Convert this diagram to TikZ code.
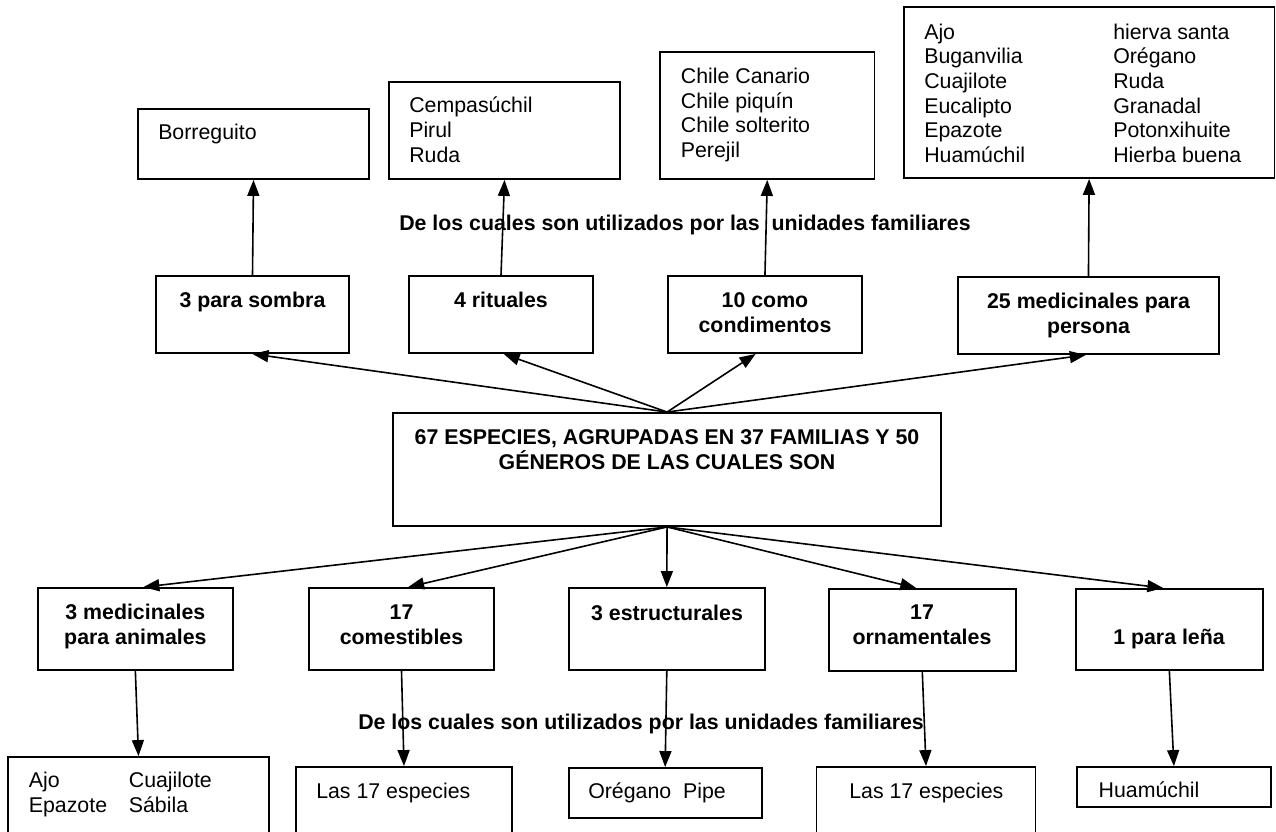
\documentclass[tikz,border=0pt]{standalone}
\usepackage{fontspec}
\setmainfont{Liberation Sans}
\usetikzlibrary{arrows.meta, positioning, fit}

\begin{document}
\begin{tikzpicture}[x=0.75pt, y=-0.75pt,
    box/.style={draw, line width=1.4pt, inner sep=0pt},
    plain/.style={anchor=base west, inner sep=0pt, align=left, font=\fontsize{16}{18.4}\selectfont},
    head/.style={anchor=base, inner sep=0pt, align=center, font=\fontsize{16}{18.7}\selectfont\bfseries},
    note/.style={anchor=base west, inner sep=0pt, font=\fontsize{16}{18.4}\selectfont\bfseries},
    link/.style={line width=1.2pt, -{Triangle[length=12pt, width=9pt]}}]
  \useasboundingbox (0,0) rectangle (1276,831);
  \clip (0,0) rectangle (1276,831);

  % upper lists
  \node[box, fit={(138,109) (369,179)}] (borreg) {};
  \node[box, fit={(389,82) (620,179)}] (cempa) {};
  \node[box, fit={(660,52) (874.5,179)}] (chile) {};
  \node[box, fit={(903.7,7) (1274.5,178)}] (ajo) {};
  \node[plain] (borreg-txt) at (158,139.6) {Borreguito};
  \node[plain] (cempa-txt) at (409,162) {Cempasúchil\\Pirul\\Ruda};
  \node[plain] (chile-txt) at (680.6,157.1) {Chile Canario\\Chile piquín\\Chile solterito\\Perejil};
  \node[plain] (ajo-a) at (924,162.1) {Ajo\\Buganvilia\\Cuajilote\\Eucalipto\\Epazote\\Huamúchil};
  \node[plain] (ajo-b) at (1113,162.1) {hierva santa\\Orégano\\Ruda\\Granadal\\Potonxihuite\\Hierba buena};

  % upper uses
  \node[box, fit={(156,276) (349,353)}] (sombra) {};
  \node[box, fit={(409,276) (593,353)}] (ritual) {};
  \node[box, fit={(667.6,276) (862.3,353)}] (condim) {};
  \node[box, fit={(957.6,277) (1219.3,354)}] (persona) {};
  \node[head] (sombra-txt) at (252.5,307.6) {3 para sombra};
  \node[head] (ritual-txt) at (501,307.6) {4 rituales};
  \node[head] (condim-txt) at (765,332) {10 como\\condimentos};
  \node[head] (persona-txt) at (1088.5,333) {25 medicinales para\\persona};
  \node[note] (nota-up) at (399,230.6) {De los cuales son utilizados por las\ \ unidades familiares};

  % total
  \node[box, fit={(392.7,413) (941.4,526)}] (total) {};
  \node[head] (total-txt) at (667,469.6) {67 ESPECIES, AGRUPADAS EN 37 FAMILIAS Y 50\\GÉNEROS DE LAS CUALES SON};

  % lower uses
  \node[box, fit={(38,588) (232.7,670)}] (animal) {};
  \node[box, fit={(309,588) (494,670)}] (comest) {};
  \node[box, fit={(568.6,588) (765,670)}] (estruc) {};
  \node[box, fit={(828.6,589) (1016,671)}] (ornam) {};
  \node[box, fit={(1076,589) (1262.7,670)}] (lena) {};
  \node[head] (animal-txt) at (135.4,644.8) {3 medicinales\\para animales};
  \node[head] (comest-txt) at (401.5,644.8) {17\\comestibles};
  \node[head] (estruc-txt) at (667,620.6) {3 estructurales};
  \node[head] (ornam-txt) at (922,644.6) {17\\ornamentales};
  \node[head] (lena-txt) at (1169,644.6) {1 para leña};
  \node[note] (nota-down) at (358,729.6) {De los cuales son utilizados por las unidades familiares};

  % lower lists
  \node[box, fit={(8,757) (269,850)}] (medlist) {};
  \node[box, fit={(296,767) (512,850)}] (comlist) {};
  \node[box, fit={(568.6,768) (761.7,818)}] (estlist) {};
  \node[box, fit={(816.5,767) (1035.5,850)}] (ornlist) {};
  \node[box, fit={(1077,767) (1270.8,807)}] (lenalist) {};
  \node[plain] (med-a) at (28.6,812.1) {Ajo\\Epazote};
  \node[plain] (med-b) at (128.6,812.1) {Cuajilote\\Sábila};
  \node[plain] (comlist-txt) at (316,798.6) {Las 17 especies};
  \node[plain] (estlist-txt) at (588,798.6) {Orégano\ \ Pipe};
  \node[plain] (ornlist-txt) at (849,798.6) {Las 17 especies};
  \node[plain] (lenalist-txt) at (1098.4,797.6) {Huamúchil};

  % connectors
  \draw[link] (total.north) -- (sombra.south);
  \draw[link] (total.north) -- ([xshift=2pt]ritual.south);
  \draw[link] (total.north) -- ([xshift=-7pt]condim.south);
  \draw[link] (total.north) -- ([xshift=-2pt]persona.south);
  \draw[link] (sombra.north) -- (borreg.south);
  \draw[link] (ritual.north) -- (cempa.south);
  \draw[link] (condim.north) -- (chile.south);
  \draw[link] (persona.north) -- (ajo.south);
  \draw[link] (total.south) -- ([xshift=6pt]animal.north);
  \draw[link] (total.south) -- ([xshift=5pt]comest.north);
  \draw[link] (total.south) -- (estruc.north);
  \draw[link] (total.south) -- ([xshift=-4.5pt]ornam.north);
  \draw[link] (total.south) -- ([xshift=-4.5pt]lena.north);
  \draw[link] (animal.south) -- (medlist.north);
  \draw[link] (comest.south) -- (comlist.north);
  \draw[link] (estruc.south) -- (estlist.north);
  \draw[link] (ornam.south) -- (ornlist.north);
  \draw[link] (lena.south) -- (lenalist.north);
\end{tikzpicture}
\end{document}
